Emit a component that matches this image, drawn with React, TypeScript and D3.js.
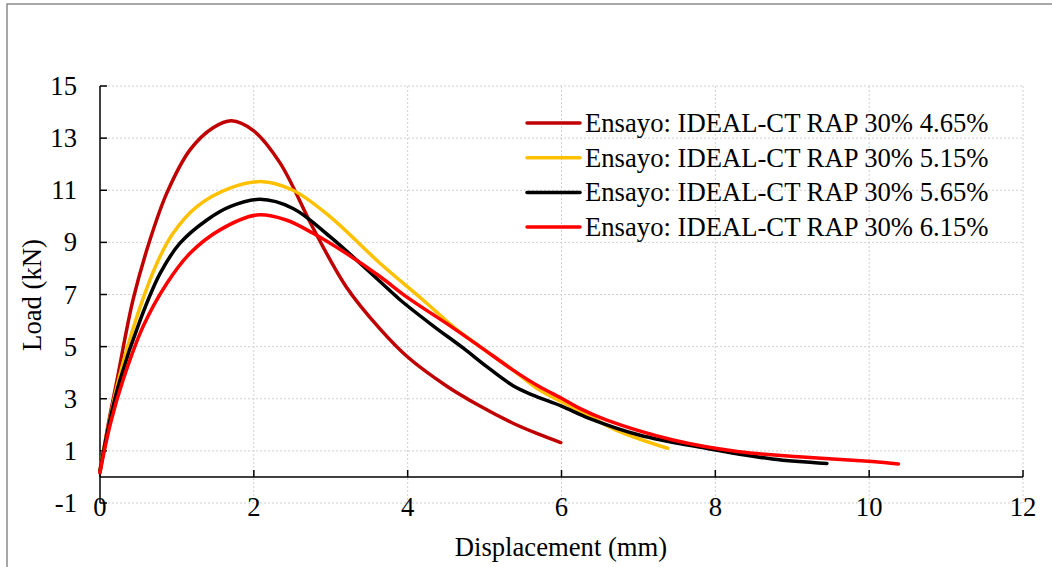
import React from "react";
import * as d3 from "d3";

const seriesNames = [
  "Ensayo: IDEAL-CT RAP 30% 4.65%",
  "Ensayo: IDEAL-CT RAP 30% 5.15%",
  "Ensayo: IDEAL-CT RAP 30% 5.65%",
  "Ensayo: IDEAL-CT RAP 30% 6.15%",
];
const seriesColors = ["#C00000", "#FFC000", "#000000", "#FF0000"];

const s465: [number, number][] = [
  [0, 0.15], [0.1, 1.9], [0.22, 3.7], [0.43, 6.8], [0.65, 9.1], [0.87, 10.9], [1.17, 12.55],
  [1.47, 13.4], [1.71, 13.67], [1.99, 13.3], [2.34, 12.05], [2.77, 9.55], [3.2, 7.3],
  [3.64, 5.68], [4.0, 4.6], [4.5, 3.5], [4.94, 2.72], [5.37, 2.06], [5.67, 1.68], [5.99, 1.32],
];
const s515: [number, number][] = [
  [0, 0.3], [0.12, 2.1], [0.24, 3.7], [0.48, 6.15], [0.74, 8.2], [0.95, 9.35],
  [1.26, 10.37], [1.69, 11.08], [2.12, 11.33], [2.51, 11.0], [2.99, 9.99], [3.64, 8.2],
  [4.2, 6.79], [4.59, 5.77], [4.94, 5.0], [5.37, 4.1], [5.71, 3.34], [6.0, 2.89],
  [6.23, 2.55], [6.71, 1.8], [7.38, 1.1],
];
const s565: [number, number][] = [
  [0, 0.25], [0.13, 2.2], [0.26, 3.72], [0.52, 6.0], [0.78, 7.8], [1.04, 8.97],
  [1.39, 9.86], [1.69, 10.37], [2.08, 10.65], [2.51, 10.3], [2.99, 9.22], [3.64, 7.5],
  [3.9, 6.8], [4.33, 5.8], [4.72, 4.95], [5.02, 4.25], [5.37, 3.5], [5.62, 3.15],
  [6.0, 2.72], [6.36, 2.25], [7.01, 1.61], [7.88, 1.1], [8.74, 0.69], [9.45, 0.52],
];
const s615: [number, number][] = [
  [0, 0.2], [0.14, 2.1], [0.3, 3.72], [0.56, 5.77], [0.87, 7.43], [1.17, 8.58],
  [1.56, 9.48], [2.04, 10.05], [2.42, 9.86], [2.77, 9.35], [3.2, 8.58],
  [3.64, 7.69], [4.0, 6.88], [4.5, 5.9], [4.94, 5.0], [5.37, 4.1], [5.71, 3.47],
  [6.0, 3.02], [6.23, 2.64], [6.58, 2.19], [7.45, 1.42], [8.31, 0.97], [9.18, 0.76],
  [10.04, 0.59], [10.38, 0.5],
];
const seriesData = [s465, s515, s565, s615];

const xTicks = [0, 2, 4, 6, 8, 10, 12];
const yTicks = [-1, 1, 3, 5, 7, 9, 11, 13, 15];

const W = 1052;
const H = 567;
const FONT = "'Liberation Serif', 'Times New Roman', serif";
const FS = 26.67;

export default function App() {
  const x = d3.scaleLinear().domain([0, 12]).range([100, 1023]);
  const y = d3.scaleLinear().domain([-1, 15]).range([503, 86]);
  const line = d3
    .line<[number, number]>()
    .x((d) => x(d[0]))
    .y((d) => y(d[1]))
    .curve(d3.curveCatmullRom.alpha(0.5));

  const legendX = 527;
  const legendY0 = 123;
  const legendDy = 34.7;

  return (
    <svg
      width={W}
      height={H}
      style={{ position: "absolute", left: 0, top: 0, display: "block", background: "#fff" }}
      fontFamily={FONT}
    >
      <rect x={7} y={4} width={W + 10} height={H + 10} fill="#fff" stroke="#8c8c8c" strokeWidth={1.5} />
      {/* grid */}
      {yTicks.map((t) => (
        <line key={"gy" + t} x1={x(0)} x2={x(12)} y1={y(t)} y2={y(t)} stroke="#d0d0d0" strokeWidth={1} strokeDasharray="2,2" />
      ))}
      {xTicks.filter((t) => t > 0).map((t) => (
        <line key={"gx" + t} x1={x(t)} x2={x(t)} y1={y(15)} y2={y(-1)} stroke="#d0d0d0" strokeWidth={1} strokeDasharray="2,2" />
      ))}
      {/* axes */}
      <line x1={x(0)} x2={x(0)} y1={y(15)} y2={y(-1)} stroke="#000" strokeWidth={1.5} />
      {yTicks.map((t) => (
        <line key={"ty" + t} x1={x(0)} x2={x(0) + 7} y1={y(t)} y2={y(t)} stroke="#000" strokeWidth={1.5} />
      ))}
      <line x1={x(0)} x2={x(12)} y1={y(0)} y2={y(0)} stroke="#000" strokeWidth={1.5} />
      {xTicks.map((t) => (
        <line key={"tx" + t} x1={x(t)} x2={x(t)} y1={y(0)} y2={y(0) - 7} stroke="#000" strokeWidth={1.5} />
      ))}
      {/* tick labels */}
      {yTicks.map((t) => (
        <text key={"ly" + t} x={77} y={y(t) + 9} textAnchor="end" fontSize={FS} fill="#000">
          {t}
        </text>
      ))}
      {xTicks.map((t) => (
        <text key={"lx" + t} x={x(t)} y={516} textAnchor="middle" fontSize={FS} fill="#000">
          {t}
        </text>
      ))}
      <text x={561} y={556} textAnchor="middle" fontSize={FS} fill="#000">
        Displacement (mm)
      </text>
      <text transform={`translate(41,295) rotate(-90)`} textAnchor="middle" fontSize={FS} fill="#000">
        Load (kN)
      </text>
      {/* series */}
      {seriesData.map((s, i) => (
        <path key={"s" + i} d={line(s) || ""} fill="none" stroke={seriesColors[i]} strokeWidth={3.5} strokeLinecap="round" strokeLinejoin="round" />
      ))}
      {/* legend */}
      {seriesNames.map((n, i) => (
        <g key={"lg" + i}>
          <line x1={legendX} x2={legendX + 53} y1={legendY0 + i * legendDy} y2={legendY0 + i * legendDy} stroke={seriesColors[i]} strokeWidth={3.5} strokeLinecap="round" />
          <text x={legendX + 58} y={legendY0 + i * legendDy + 9} fontSize={FS} fill="#000">
            {n}
          </text>
        </g>
      ))}
    </svg>
  );
}
